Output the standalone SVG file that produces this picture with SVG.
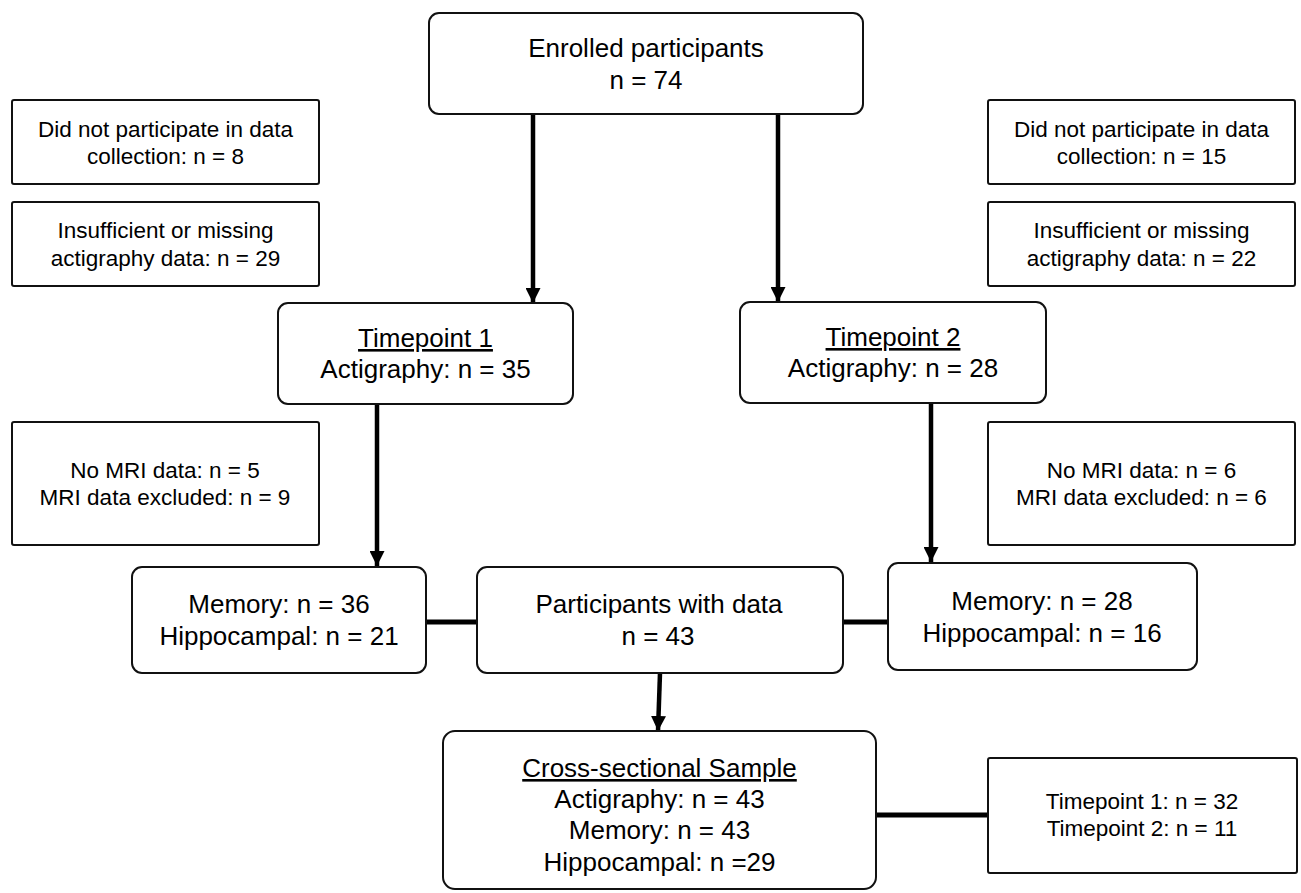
<svg xmlns="http://www.w3.org/2000/svg" width="1301" height="893" viewBox="0 0 1301 893">
<style>
.box{fill:#fff;stroke:#111;stroke-width:2}
.t{font-family:"Liberation Sans",Arial,sans-serif;fill:#000;text-anchor:middle}
.lg{font-size:26px}
.sm{font-size:22.5px}
.u{text-decoration:underline}
.arrow{stroke:#000;stroke-width:4.5;fill:none}
.link{stroke:#000;stroke-width:5;fill:none}
</style>
<defs>
<marker id="ah" markerUnits="userSpaceOnUse" markerWidth="16" markerHeight="15" refX="15" refY="7.5" orient="auto" viewBox="0 0 16 15">
<path d="M0,0 L15,7.5 L0,15 z" fill="#000"/>
</marker>
</defs>
<rect width="1301" height="893" fill="#fff"/>

<g id="connectors">
<line class="arrow" x1="533" y1="114" x2="533" y2="303" marker-end="url(#ah)"/>
<line class="arrow" x1="778" y1="114" x2="778" y2="302" marker-end="url(#ah)"/>
<line class="arrow" x1="377" y1="404" x2="377" y2="566" marker-end="url(#ah)"/>
<line class="arrow" x1="931" y1="403" x2="931" y2="562" marker-end="url(#ah)"/>
<line class="arrow" x1="660" y1="673" x2="658" y2="731" marker-end="url(#ah)"/>
<line class="link" x1="426" y1="622" x2="477" y2="622"/>
<line class="link" x1="843" y1="622" x2="888" y2="622"/>
<line class="link" x1="876" y1="815" x2="988" y2="815"/>
</g>

<g id="enrolled">
<rect class="box" x="429" y="13" width="434" height="101" rx="10"/>
<text class="t lg" x="646" y="57">Enrolled participants</text>
<text class="t lg" x="646" y="89">n = 74</text>
</g>

<g id="excl-collection-1">
<rect class="box" x="12" y="100" width="307" height="84" rx="2"/>
<text class="t sm" x="165.5" y="137">Did not participate in data</text>
<text class="t sm" x="165.5" y="164">collection: n = 8</text>
</g>

<g id="excl-actigraphy-1">
<rect class="box" x="12" y="202" width="307" height="84" rx="2"/>
<text class="t sm" x="165.5" y="238">Insufficient or missing</text>
<text class="t sm" x="165.5" y="266">actigraphy data: n = 29</text>
</g>

<g id="excl-collection-2">
<rect class="box" x="988" y="100" width="307" height="84" rx="2"/>
<text class="t sm" x="1141.5" y="137">Did not participate in data</text>
<text class="t sm" x="1141.5" y="164">collection: n = 15</text>
</g>

<g id="excl-actigraphy-2">
<rect class="box" x="988" y="202" width="307" height="84" rx="2"/>
<text class="t sm" x="1141.5" y="238">Insufficient or missing</text>
<text class="t sm" x="1141.5" y="266">actigraphy data: n = 22</text>
</g>

<g id="timepoint1">
<rect class="box" x="278" y="303" width="295" height="101" rx="10"/>
<text class="t lg u" x="425.5" y="347">Timepoint 1</text>
<text class="t lg" x="425.5" y="378">Actigraphy: n = 35</text>
</g>

<g id="timepoint2">
<rect class="box" x="740" y="302" width="306" height="101" rx="10"/>
<text class="t lg u" x="893" y="346">Timepoint 2</text>
<text class="t lg" x="893" y="377">Actigraphy: n = 28</text>
</g>

<g id="mri-excl-1">
<rect class="box" x="12" y="422" width="307" height="123" rx="2"/>
<text class="t sm" x="165" y="478">No MRI data: n = 5</text>
<text class="t sm" x="165" y="505">MRI data excluded: n = 9</text>
</g>

<g id="mri-excl-2">
<rect class="box" x="988" y="422" width="307" height="123" rx="2"/>
<text class="t sm" x="1141.5" y="478">No MRI data: n = 6</text>
<text class="t sm" x="1141.5" y="505">MRI data excluded: n = 6</text>
</g>

<g id="memory1">
<rect class="box" x="132" y="567" width="294" height="106" rx="10"/>
<text class="t lg" x="279" y="613">Memory: n = 36</text>
<text class="t lg" x="279" y="645">Hippocampal: n = 21</text>
</g>

<g id="participants">
<rect class="box" x="477" y="567" width="366" height="106" rx="10"/>
<text class="t lg" x="659" y="613">Participants with data</text>
<text class="t lg" x="658" y="645">n = 43</text>
</g>

<g id="memory2">
<rect class="box" x="888" y="563" width="309" height="107" rx="10"/>
<text class="t lg" x="1042" y="610">Memory: n = 28</text>
<text class="t lg" x="1042" y="642">Hippocampal: n = 16</text>
</g>

<g id="cross-sectional">
<rect class="box" x="443" y="731" width="433" height="158" rx="12"/>
<text class="t lg u" x="659.5" y="777">Cross-sectional Sample</text>
<text class="t lg" x="659.5" y="808">Actigraphy: n = 43</text>
<text class="t lg" x="659.5" y="839">Memory: n = 43</text>
<text class="t lg" x="659.5" y="871">Hippocampal: n =29</text>
</g>

<g id="timepoint-split">
<rect class="box" x="988" y="758" width="309" height="115" rx="2"/>
<text class="t sm" x="1142" y="809">Timepoint 1: n = 32</text>
<text class="t sm" x="1142" y="836">Timepoint 2: n = 11</text>
</g>
</svg>
